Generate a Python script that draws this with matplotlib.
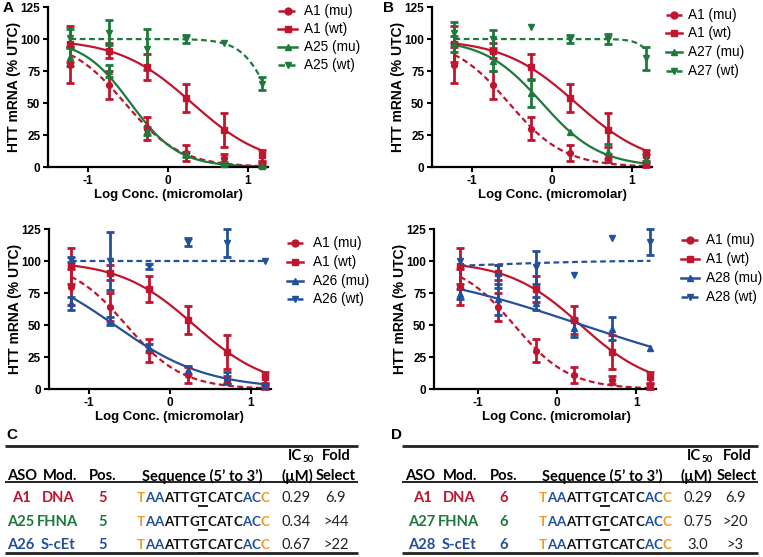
import numpy as np
import matplotlib
matplotlib.use("Agg")
import matplotlib.pyplot as plt
from matplotlib.lines import Line2D

plt.rcParams['font.family'] = ['Liberation Sans', 'DejaVu Sans']
plt.rcParams['axes.unicode_minus'] = False

# ---------------- data ----------------
x_log = [-1.22, -0.74, -0.26, 0.22, 0.70, 1.18]

a1_mu_mean = [80, 64, 30, 11, 7, 2]
a1_mu_err = [14, 11, 9, 6, 3, 2]
a1_wt_mean = [96, 91, 78, 54, 29, 9]
a1_wt_err = [14, 6, 10, 11, 13, 4]

a25_mu_mean = [86, 75, 28, 10, 2, 1]
a25_mu_err = [7, 5, 3, 2, 1, 1]
a25_wt_mean = [101, 105, 92, 100, 97, 65]
a25_wt_err = [7, 10, 16, 3, 0, 5]

a27_mu_mean = [96, 83, 58, 27, 12, 6]
a27_mu_err = [6, 8, 11, 0, 6, 4]
a27_wt_mean = [105, 100, 109, 100, 100, 85]
a27_wt_err = [8, 7, 0, 3, 4, 9]

a26_mu_mean = [67, 53, 32, 15, 9, 3]
a26_mu_err = [5, 3, 3, 3, 4, 1]
a26_wt_mean = [101, 100, 96, 115, 114, 100]
a26_wt_err = [2, 23, 2, 3, 11, 0]

a28_mu_mean = [74, 70, 67, 48, 47, 32]
a28_mu_err = [4, 12, 5, 7, 9, 0]
a28_wt_mean = [100, 88, 95, 89, 118, 115]
a28_wt_err = [0, 9, 13, 0, 0, 10]

# fitted curve parameters: [top, bottom, logIC50, hill slope]
a1_mu_fit = [100, 0, -0.54, 1.25]
a1_wt_fit = [100, 0, 0.30, 0.95]
a25_mu_fit = [100, 0, -0.47, 1.45]
a25_wt_fit = [100, 0, 1.31, 2.36]
a27_mu_fit = [100, 0, -0.125, 1.2]
a27_wt_fit = [100, 0, 1.43, 4.0]
a26_mu_fit = [100, 0, -0.685, 0.76]
a26_wt_fit = [100, 100, 0.0, 1.0]
a28_mu_fit = [100, 0, 0.32, 0.357]
a28_wt_fit = [94, 100.5, -0.8, 0.6]

yticks = [0, 25, 50, 75, 100, 125]
xticks = [-1, 0, 1]

# table data
tab_cols = ["ASO", "Mod.", "Pos.", "Sequence (5\u2019 to 3\u2019)", "(\u00b5M)", "Select"]
tabC_aso = ["A1", "A25", "A26"]
tabD_aso = ["A1", "A27", "A28"]
tab_mod = ["DNA", "FHNA", "S-cEt"]
tabC_pos = ["5", "5", "5"]
tabD_pos = ["6", "6", "6"]
tabC_ic50 = ["0.29", "0.34", "0.67"]
tabD_ic50 = ["0.29", "0.75", "3.0"]
tabC_fold = ["6.9", ">44", ">22"]
tabD_fold = ["6.9", ">20", ">3"]
sequence = "TAAATTGTCATCACC"
seq_colors = ["o", "b", "b", "k", "k", "k", "k", "k", "k", "k", "k", "k", "b", "b", "o"]

# ---------------- style ----------------
RED = "#c0152f"
GREEN = "#1d7a3c"
BLUE = "#22509a"
ORANGE = "#f29a22"
DASH = (0, (2.6, 1.6))

W, H = 763, 557
fig = plt.figure(figsize=(W / 100, H / 100), dpi=100)


def px(x, y):
    return x / W, 1 - y / H


def add_ax(l, t, r, b):
    return fig.add_axes([l / W, 1 - b / H, (r - l) / W, (b - t) / H])


def hill(x, p):
    top, bottom, c, h = p
    return bottom + (top - bottom) / (1 + 10 ** ((x - c) * h))


def draw_series(ax, mean, err, fit, color, marker, ls):
    xs = np.linspace(x_log[0], x_log[-1], 200)
    ax.plot(xs, hill(xs, fit), color=color, lw=1.6, linestyle=ls, zorder=2, clip_on=False)
    xe = [x for x, e in zip(x_log, err) if e > 0]
    me = [m for m, e in zip(mean, err) if e > 0]
    ee = [e for e in err if e > 0]
    ax.errorbar(xe, me, yerr=ee, fmt='none', ecolor=color, elinewidth=2.0,
                capsize=2.6, capthick=2.0, zorder=3, clip_on=False)
    ax.plot(x_log, mean, linestyle='none', marker=marker, ms=4.2, color=color,
            zorder=4, clip_on=False)


def style_ax(ax, xlim, width_px):
    ax.set_xlim(*xlim)
    ax.set_ylim(0, 125)
    for s in ['top', 'right']:
        ax.spines[s].set_visible(False)
    for s in ['left', 'bottom']:
        ax.spines[s].set_linewidth(1.6)
    ax.set_xticks(xticks)
    ax.set_yticks(yticks)
    ax.tick_params(direction='out', length=3.5, width=1.5, labelsize=8.5, pad=2)
    for lab in ax.get_xticklabels() + ax.get_yticklabels():
        lab.set_fontweight('bold')
    ax.set_xlabel("Log Conc. (micromolar)", fontsize=9.5, fontweight='bold')
    ax.set_ylabel("HTT mRNA (% UTC)", fontsize=10, fontweight='bold')
    x0frac = (0 - xlim[0]) / (xlim[1] - xlim[0])
    ax.xaxis.set_label_coords(x0frac, -0.175)
    ax.xaxis.label.set_va('center')
    ax.yaxis.set_label_coords(-34.0 / width_px, 0.5)
    ax.yaxis.label.set_va('center')
    ax.patch.set_alpha(0)


def draw_legend(entries, hx0, hx1, tx, ys):
    for (label, color, marker, ls), y in zip(entries, ys):
        fx0, fy = px(hx0, y)
        fx1, _ = px(hx1, y)
        fig.add_artist(Line2D([fx0, fx1], [fy, fy], color=color, lw=1.8,
                              linestyle=ls, transform=fig.transFigure))
        fig.add_artist(Line2D([(fx0 + fx1) / 2], [fy], color=color, marker=marker,
                              ms=5, linestyle='none', transform=fig.transFigure))
        tx_, ty_ = px(tx, y)
        fig.text(tx_, ty_, label, fontsize=9.8, va='center', ha='left')


panels = [
    ((48, 7, 268, 167), (-1.5, 1.25),
     [("A1 (mu)", a1_mu_mean, a1_mu_err, a1_mu_fit, RED, 'o', DASH),
      ("A1 (wt)", a1_wt_mean, a1_wt_err, a1_wt_fit, RED, 's', '-'),
      ("A25 (mu)", a25_mu_mean, a25_mu_err, a25_mu_fit, GREEN, '^', '-'),
      ("A25 (wt)", a25_wt_mean, a25_wt_err, a25_wt_fit, GREEN, 'v', DASH)],
     (278, 297, 304, [11, 29, 47, 65])),
    ((432, 7, 652, 167), (-1.5, 1.25),
     [("A1 (mu)", a1_mu_mean, a1_mu_err, a1_mu_fit, RED, 'o', DASH),
      ("A1 (wt)", a1_wt_mean, a1_wt_err, a1_wt_fit, RED, 's', '-'),
      ("A27 (mu)", a27_mu_mean, a27_mu_err, a27_mu_fit, GREEN, '^', '-'),
      ("A27 (wt)", a27_wt_mean, a27_wt_err, a27_wt_fit, GREEN, 'v', DASH)],
     (666, 682, 688, [15, 33, 52, 71])),
    ((48.5, 229, 271, 389), (-1.5, 1.25),
     [("A1 (mu)", a1_mu_mean, a1_mu_err, a1_mu_fit, RED, 'o', DASH),
      ("A1 (wt)", a1_wt_mean, a1_wt_err, a1_wt_fit, RED, 's', '-'),
      ("A26 (mu)", a26_mu_mean, a26_mu_err, a26_mu_fit, BLUE, '^', '-'),
      ("A26 (wt)", a26_wt_mean, a26_wt_err, a26_wt_fit, BLUE, 'v', DASH)],
     (287, 303, 313, [243, 262, 281, 299])),
    ((434, 229, 656, 389), (-1.55, 1.25),
     [("A1 (mu)", a1_mu_mean, a1_mu_err, a1_mu_fit, RED, 'o', DASH),
      ("A1 (wt)", a1_wt_mean, a1_wt_err, a1_wt_fit, RED, 's', '-'),
      ("A28 (mu)", a28_mu_mean, a28_mu_err, a28_mu_fit, BLUE, '^', '-'),
      ("A28 (wt)", a28_wt_mean, a28_wt_err, a28_wt_fit, BLUE, 'v', DASH)],
     (681, 699, 706, [240, 259, 278, 297])),
]

for rect, xlim, series, leg in panels:
    ax = add_ax(*rect)
    for label, mean, err, fit, color, marker, ls in series:
        draw_series(ax, mean, err, fit, color, marker, ls)
    style_ax(ax, xlim, rect[2] - rect[0])
    hx0, hx1, tx, ys = leg
    draw_legend([(s[0], s[4], s[5], s[6]) for s in series], hx0, hx1, tx, ys)

# panel letters
for letter, (x, y) in zip("ABCD", [(8, 8), (389, 8), (12, 435), (396, 435)]):
    fx, fy = px(x, y)
    fig.text(fx, fy, letter, fontsize=11, fontweight='bold', ha='center', va='center')

# ---------------- tables ----------------
TFONT = ['Lato', 'DejaVu Sans']
TS = 10.6
SEQ_S = 9.6
renderer = fig.canvas.get_renderer()
color_map = {"o": ORANGE, "b": BLUE, "k": "#111111"}
row_colors = [RED, GREEN, BLUE]


def T(x, y, s, **kw):
    fx, fy = px(x, y)
    kw.setdefault('fontsize', TS)
    kw.setdefault('family', TFONT)
    kw.setdefault('fontweight', 'bold')
    kw.setdefault('va', 'center')
    kw.setdefault('ha', 'center')
    return fig.text(fx, fy, s, **kw)


def hline(x0, x1, y, lw):
    fx0, fy = px(x0, y)
    fx1, _ = px(x1, y)
    fig.add_artist(Line2D([fx0, fx1], [fy, fy], color='#222222', lw=lw,
                          transform=fig.transFigure, solid_capstyle='butt'))


def text_width(s, size):
    t = T(0, 0, s, fontsize=size)
    w = t.get_window_extent(renderer).width
    t.remove()
    return w


_seq_full = [text_width(sequence[:i + 1], SEQ_S) for i in range(len(sequence))]
_seq_char = [text_width(ch, SEQ_S) for ch in sequence]


def draw_sequence(x0, y):
    for i, ch in enumerate(sequence):
        wch = _seq_char[i]
        xi = x0 + (_seq_full[i] - wch)
        T(xi, y, ch, ha='left', fontsize=SEQ_S, color=color_map[seq_colors[i]])
        if i == 7:
            hline(xi - 0.5, xi + wch + 0.5, y + 7.5, 1.4)


def draw_table(cfg):
    (lx0, lx1, col_x, row_x, seq_x, aso, pos, ic50, fold) = cfg
    hline(lx0, lx1, 446, 2.0)
    hline(lx0, lx1, 482, 1.4)
    hline(lx0, lx1, 553, 2.0)
    ic_x, fold_x = col_x[4], col_x[5]
    T(ic_x + 5, 456, "IC", ha='right')
    T(ic_x + 5.5, 459.5, "50", ha='left', fontsize=7)
    T(fold_x, 456, "Fold")
    for name, cx in zip(tab_cols, col_x):
        T(cx, 476, name)
    for r, y in enumerate([498, 522, 545]):
        c = row_colors[r]
        T(row_x[0], y, aso[r], color=c)
        T(row_x[1], y, tab_mod[r], color=c)
        T(row_x[2], y, pos[r], color=c)
        draw_sequence(seq_x, y)
        T(row_x[3], y, ic50[r], fontweight='normal', color='#222222')
        T(row_x[4], y, fold[r], fontweight='normal', color='#222222')


draw_table((5, 358, [22, 60, 103, 202, 297, 336], [21, 58, 103, 296, 336], 137,
            tabC_aso, tabC_pos, tabC_ic50, tabC_fold))
draw_table((402, 758, [420, 460, 504, 602, 696, 737], [422, 459, 504, 698, 735], 539,
            tabD_aso, tabD_pos, tabD_ic50, tabD_fold))

fig.savefig("out.png", dpi=100)
